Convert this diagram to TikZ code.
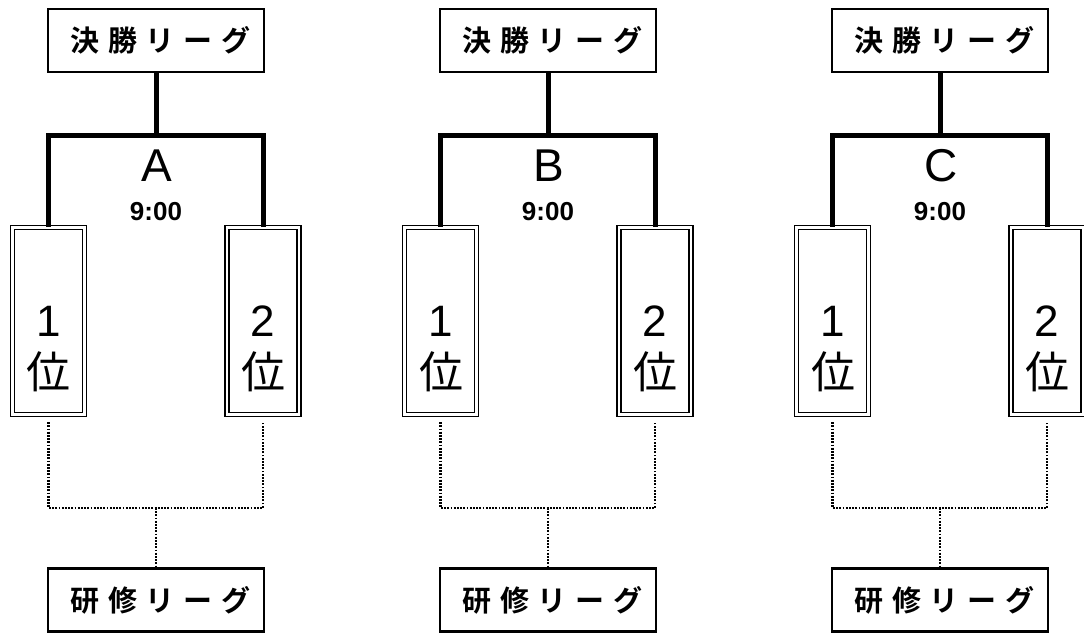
\documentclass[tikz,border=0pt]{standalone}
\usepackage{fontspec}
\setmainfont{Liberation Sans}
\newfontfamily\jp{Noto Sans CJK JP}
\newfontfamily\jpw[LetterSpace=30,BoldFont={Noto Sans CJK JP Bold}]{Noto Sans CJK JP}
\begin{document}
\begin{tikzpicture}[x=1pt,y=-1pt,
  leaguebox/.style={draw, line width=2pt, minimum width=216pt, minimum height=63pt, inner sep=0pt, font=\jpw\bfseries\fontsize{29}{29}\selectfont},
  trainbox/.style={leaguebox, line width=2.6pt},
  rankbox/.style={draw, double, double distance=2.8pt, line width=1.2pt, minimum width=72pt, minimum height=187pt, inner sep=0pt},
  ranktext/.style={align=center, font=\fontsize{44}{52}\selectfont, inner sep=0pt},
  grouplabel/.style={font=\fontsize{46}{46}\selectfont, inner sep=0pt},
  timelabel/.style={font=\bfseries\fontsize{26}{26}\selectfont, inner sep=0pt},
  thickline/.style={line width=5pt, line join=miter},
  dotline/.style={line width=2.2pt, dash pattern=on 1.8pt off 1.4pt}
]
\useasboundingbox (0,0) rectangle (1084,633);
\clip (0,0) rectangle (1084,633);
\foreach \g/\o in {A/0, B/392, C/784} {
  \begin{scope}[xshift=\o pt]
    \node[leaguebox] (f\g) at (156,40) {決勝リーグ\kern-8.7pt};
    \node[trainbox] (k\g) at (156,600) {研修リーグ\kern-8.7pt};
    \node[rankbox] (r\g1) at (48.5,321) {};
    \node[rankbox] (r\g2) at (263,321) {};
    \node[ranktext] (t\g1) at (49,349) {1\\{\jp 位}};
    \node[ranktext] (t\g2) at (263,349) {2\\{\jp 位}};
    \node[grouplabel] (g\g) at (157,166) {\g};
    \node[timelabel] (h\g) at (156,212) {9:00};
    \coordinate (j\g) at (156,135);
    \coordinate (d\g) at (156,508);
    \draw[thickline] (f\g.south) -- (j\g);
    \draw[thickline] (r\g1.north) |- (j\g) -| (r\g2.north);
    \draw[dotline] ([yshift=-7pt]r\g1.south) |- (d\g) -| ([yshift=-7pt]r\g2.south);
    \draw[dotline] (d\g) -- (k\g.north);
  \end{scope}
}
\end{tikzpicture}
\end{document}
